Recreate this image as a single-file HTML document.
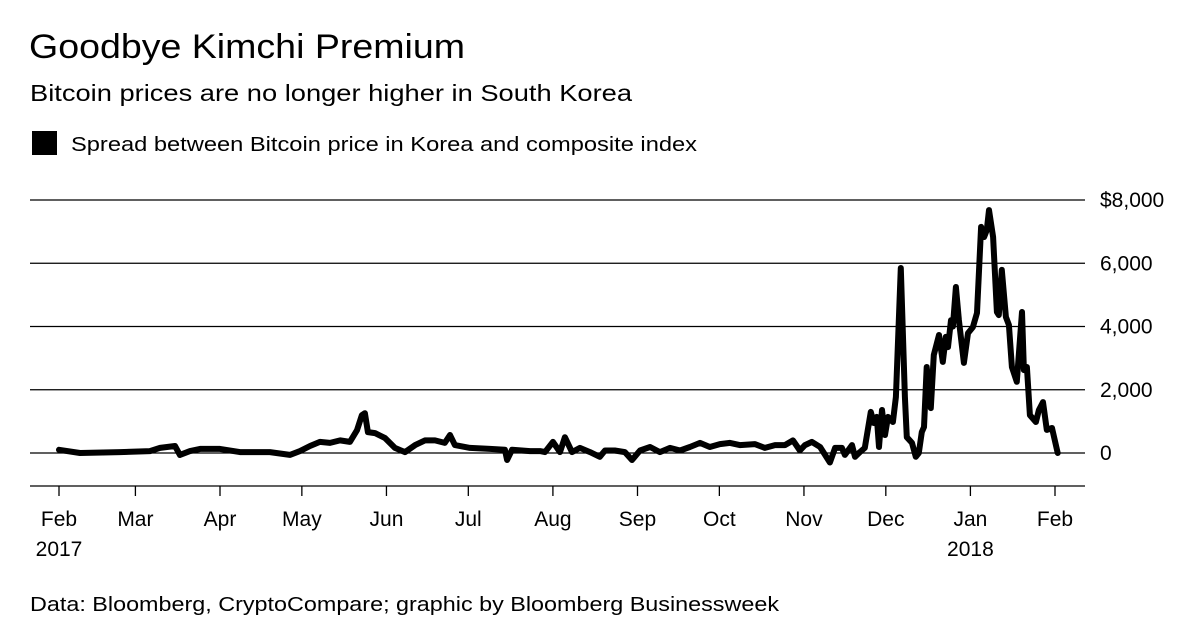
<!DOCTYPE html>
<html><head><meta charset="utf-8"><style>
body{margin:0;background:#fff;font-family:"Liberation Sans",sans-serif;color:#000}
</style></head><body>
<svg width="1200" height="630" xmlns="http://www.w3.org/2000/svg" font-family="Liberation Sans, sans-serif">
<text x="29" y="58" font-size="34" textLength="436" lengthAdjust="spacingAndGlyphs">Goodbye Kimchi Premium</text>
<text x="30" y="101" font-size="23" textLength="602" lengthAdjust="spacingAndGlyphs">Bitcoin prices are no longer higher in South Korea</text>
<rect x="32" y="131" width="25" height="24" fill="#000"/>
<text x="71" y="151" font-size="20" textLength="626" lengthAdjust="spacingAndGlyphs">Spread between Bitcoin price in Korea and composite index</text>
<g id="grid"></g><g id="xaxis"></g>
<path id="line" fill="none" stroke="#000" stroke-width="6" stroke-linejoin="round" stroke-linecap="round"/>
<text x="30" y="611" font-size="20" textLength="749" lengthAdjust="spacingAndGlyphs">Data: Bloomberg, CryptoCompare; graphic by Bloomberg Businessweek</text>
</svg>
<script>
const yTicks=[0,2000,4000,6000,8000];
const yTickLabels=["0","2,000","4,000","6,000","$8,000"];
const monthDays=[0,28,59,89,120,150,181,212,242,273,303,334,365];
const monthLabels=["Feb","Mar","Apr","May","Jun","Jul","Aug","Sep","Oct","Nov","Dec","Jan","Feb"];
const yearLabels={0:"2017",11:"2018"};
const days=[0,7.7,22.4,33.3,37,42.5,44.3,48,51.7,59,66.3,77.3,84.6,88.3,92,95.6,99.3,103,106.6,109.2,111,112.1,113.2,115.8,119.5,123.1,126.8,130.5,134.1,137.8,141.4,143.3,145.1,150.6,157.9,163.4,164.2,166,172.6,176.3,178.1,181,183.6,185.4,188,190.9,194.6,198.2,200.1,203.7,207.4,210,212.9,216.6,220.2,223.9,227.6,231.2,234.9,238.5,242.2,245.9,249.5,255,258.7,262.4,266,269,271.5,273.4,275.9,278.9,282.5,284.4,286.9,288,290.6,291.7,293.5,295.3,297.5,298.6,299.7,300.5,301.6,302.7,303.8,305.6,306.7,308.5,310,310.7,312.6,314,315.1,316.2,317,318,319.5,320.6,322.5,323.9,325,325.8,326.9,327.6,328.7,329.8,331.6,333.1,334.9,336.4,337.9,339,340,340.8,342.3,343.7,344.4,345.5,347,348.1,349.2,351,352.9,353.6,354.7,355.8,358,359.1,360.6,362,363.9,366];
const values=[100,0,30,60,160,220,-60,60,130,130,30,30,-60,60,220,350,320,400,350,720,1200,1260,660,630,470,160,30,250,400,400,320,570,250,160,130,100,-220,100,60,60,30,350,30,500,30,160,30,-120,80,80,30,-220,80,190,30,160,80,190,320,190,280,320,250,280,160,250,250,400,80,250,350,190,-300,160,160,-60,250,-120,30,160,1300,950,1140,190,1360,570,1140,980,1770,5850,1770,500,320,-120,0,660,820,2720,1420,3100,3730,2880,3670,3350,4200,4000,5250,4200,2850,3790,3980,4430,7150,6830,7050,7680,6830,4460,4360,5790,4300,4050,2720,2250,4460,2620,2720,1200,980,1360,1610,730,790,0];
const NS="http://www.w3.org/2000/svg";
const X=d=>59+d*(1055-59)/365;
const Y=v=>453-v*(453-200)/8000;
function mk(t,a){const e=document.createElementNS(NS,t);for(const k in a)e.setAttribute(k,a[k]);return e;}
const grid=document.getElementById('grid');
yTicks.forEach((v,i)=>{
 const l=mk('line',{x1:30,x2:1085,y1:Y(v),y2:Y(v),stroke:'#000','stroke-width':1.3});
 
 
 grid.appendChild(l);
 const t=mk('text',{x:1100,y:Y(v)+7,'font-size':21});
 
 
 t.textContent=yTickLabels[i];grid.appendChild(t);
});
const xa=document.getElementById('xaxis');
const ax=mk('line',{x1:30,x2:1085,y1:486,y2:486,stroke:'#000','stroke-width':1.3});


xa.appendChild(ax);
monthDays.forEach((d,i)=>{
 const x=X(d);
 const tk=mk('line',{x1:x,x2:x,y1:486,y2:496,stroke:'#000','stroke-width':1.3});
 
 
 xa.appendChild(tk);
 const t=mk('text',{x:x,y:526,'font-size':21,'text-anchor':'middle'});
 
 
 t.textContent=monthLabels[i];xa.appendChild(t);
 if(yearLabels[i]){const y=mk('text',{x:x,y:556,'font-size':21,'text-anchor':'middle'});
 
 
 y.textContent=yearLabels[i];xa.appendChild(y);}
});
document.getElementById('line').setAttribute('d',days.map((d,i)=>(i?'L':'M')+X(d).toFixed(1)+','+Y(values[i]).toFixed(1)).join(''));
</script>
</body></html>
